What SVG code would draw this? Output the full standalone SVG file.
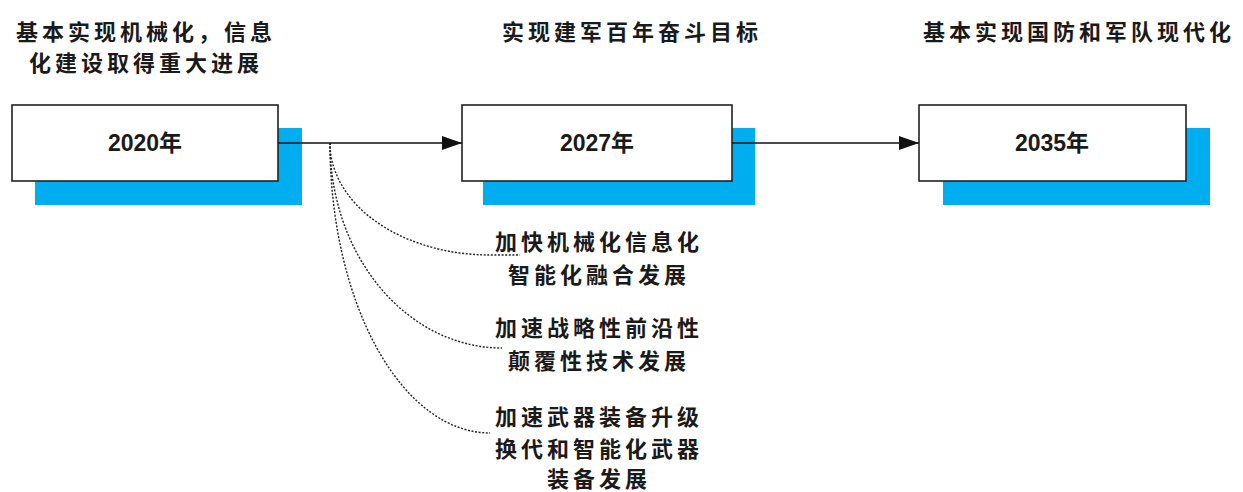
<svg xmlns="http://www.w3.org/2000/svg" width="1243" height="492" viewBox="0 0 1243 492">
<style>
.shadow{fill:#00AEEF;}
.box{fill:#ffffff;stroke:#222;stroke-width:1.6;}
.yr{font-family:"Liberation Sans","Noto Sans CJK SC",sans-serif;font-weight:bold;font-size:23px;fill:#1a1a1a;text-anchor:middle;}
.lbl{font-family:"Noto Sans CJK SC",sans-serif;font-weight:bold;font-size:22px;fill:#1a1a1a;text-anchor:middle;letter-spacing:4px;}
.solid{fill:none;stroke:#111;stroke-width:1.5;}
.dot{fill:none;stroke:#222;stroke-width:1.4;stroke-dasharray:2 1.6;}
</style>
<defs>
<marker id="arr" viewBox="0 0 20 14" refX="20" refY="7" markerWidth="20" markerHeight="14" markerUnits="userSpaceOnUse" orient="auto">
<path d="M0,0 L20,7 L0,14 Z" fill="#111"/>
</marker>
</defs>
<g id="node-2020">
<rect class="shadow" x="35" y="128" width="267" height="77"/>
<rect class="box" x="12" y="105" width="266" height="76"/>
<text class="yr" x="145" y="151">2020年</text>
<text class="lbl" x="146" y="40">基本实现机械化，信息</text>
<text class="lbl" x="146" y="71">化建设取得重大进展</text>
</g>
<g id="node-2027">
<rect class="shadow" x="483" y="128" width="272" height="77"/>
<rect class="box" x="462" y="105" width="270" height="76"/>
<text class="yr" x="597" y="151">2027年</text>
<text class="lbl" x="632" y="40">实现建军百年奋斗目标</text>
</g>
<g id="node-2035">
<rect class="shadow" x="943" y="128" width="267" height="77"/>
<rect class="box" x="919" y="105" width="267" height="76"/>
<text class="yr" x="1052" y="151">2035年</text>
<text class="lbl" x="1079" y="40">基本实现国防和军队现代化</text>
</g>
<g id="note-1">
<text class="lbl" x="599" y="250">加快机械化信息化</text>
<text class="lbl" x="599" y="283">智能化融合发展</text>
</g>
<g id="note-2">
<text class="lbl" x="599" y="336">加速战略性前沿性</text>
<text class="lbl" x="599" y="369">颠覆性技术发展</text>
</g>
<g id="note-3">
<text class="lbl" x="599" y="425">加速武器装备升级</text>
<text class="lbl" x="599" y="457">换代和智能化武器</text>
<text class="lbl" x="599" y="487">装备发展</text>
</g>
<g id="connectors">
<line class="solid" x1="278" y1="143" x2="462" y2="143" marker-end="url(#arr)"/>
<line class="solid" x1="732" y1="143" x2="919" y2="143" marker-end="url(#arr)"/>
<path class="dot" d="M330,143 A160,112 0 0 0 490,255 L520,255"/>
<path class="dot" d="M330,143 A172,205 0 0 0 502,348"/>
<path class="dot" d="M330,143 A160,290 0 0 0 490,433"/>
</g>
</svg>
